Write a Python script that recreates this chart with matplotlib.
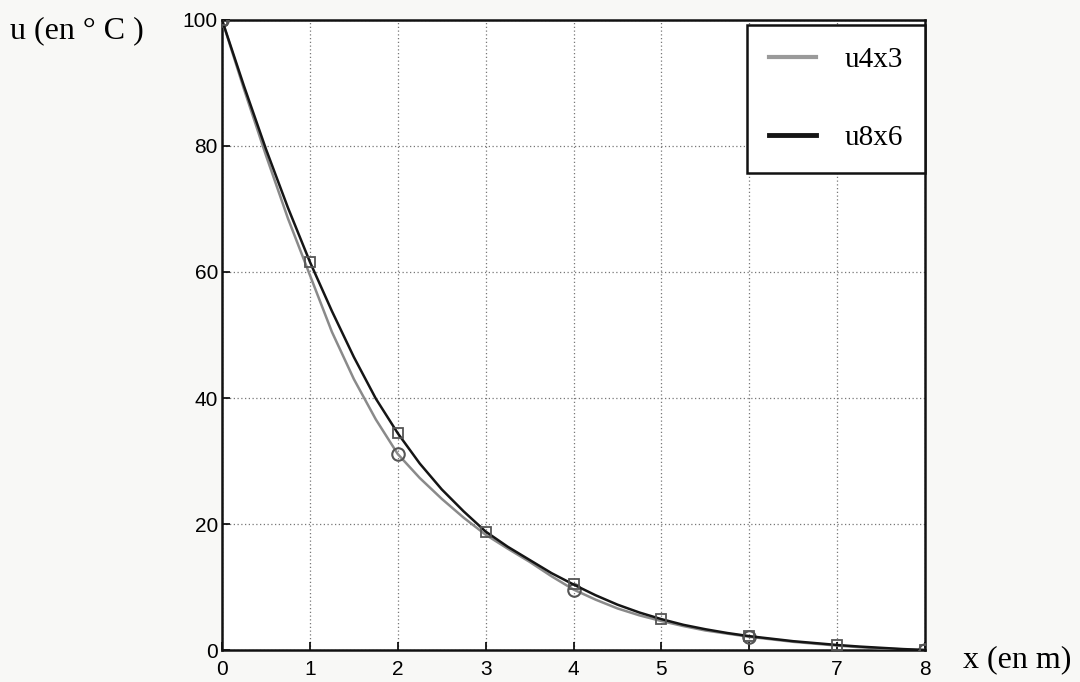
import matplotlib.pyplot as plt

# values, every 0.25 m
x_pos = [0, 0.25, 0.5, 0.75, 1, 1.25, 1.5, 1.75, 2, 2.25, 2.5, 2.75, 3, 3.25, 3.5, 3.75,
         4, 4.25, 4.5, 4.75, 5, 5.25, 5.5, 5.75, 6, 6.25, 6.5, 6.75, 7, 7.25, 7.5, 7.75, 8]
u4x3 = [100, 89, 78.5, 68.5, 59.5, 50.5, 43, 36.6, 31.1, 27.3, 24, 21, 18.3, 16.1, 14.0, 11.7,
        9.6, 8.0, 6.6, 5.5, 4.6, 3.8, 3.1, 2.6, 2.1, 1.7, 1.3, 1.0, 0.7, 0.45, 0.25, 0.1, 0]
u8x6 = [100, 89.5, 79.5, 70.2, 61.6, 53.8, 46.5, 39.9, 34.4, 29.6, 25.5, 22, 18.8, 16.4, 14.3, 12.2,
        10.4, 8.7, 7.2, 5.95, 4.9, 4.0, 3.3, 2.7, 2.2, 1.8, 1.4, 1.1, 0.8, 0.55, 0.35, 0.15, 0]

x_ticks = [0, 1, 2, 3, 4, 5, 6, 7, 8]
y_ticks = [0, 20, 40, 60, 80, 100]

serif = "Liberation Serif"
sans = "Liberation Sans"

fig = plt.figure(figsize=(10.8, 6.82), dpi=100)
fig.patch.set_facecolor("#f8f8f6")
ax = fig.add_axes([0.2056, 0.0469, 0.6509, 0.9238])
ax.set_facecolor("white")

# grey curve: markers every 2 m, black curve: every 1 m
ax.plot(x_pos, u4x3, color="#8a8a8a", lw=1.8, marker="o", markersize=9,
        markerfacecolor="none", markeredgecolor="#555555", markeredgewidth=1.5,
        markevery=8, label="u4x3", zorder=3)
ax.plot(x_pos, u8x6, color="#151515", lw=1.8, marker="s", markersize=7,
        markerfacecolor="none", markeredgecolor="#555555", markeredgewidth=1.3,
        markevery=4, label="u8x6", zorder=4)

ax.set_xlim(0, 8)
ax.set_ylim(0, 100)
ax.set_xticks(x_ticks)
ax.set_yticks(y_ticks)
ax.grid(True, color="#777777", linestyle=(0, (1, 2)), linewidth=0.9)
ax.tick_params(direction="in", length=6, width=1.2, labelsize=15)
ax.tick_params(axis="x", pad=7)
ax.tick_params(axis="y", pad=3)
for lbl in ax.get_xticklabels() + ax.get_yticklabels():
    lbl.set_fontfamily(sans)
for sp in ax.spines.values():
    sp.set_linewidth(1.8)
    sp.set_color("#111111")

leg = ax.legend(loc="upper right", bbox_to_anchor=(1.0, 0.992), borderaxespad=0.0,
                fancybox=False, edgecolor="#111111", framealpha=1,
                prop={"family": serif, "size": 21}, labelspacing=1.75,
                handlelength=1.6, handletextpad=1.0, borderpad=0.75)
leg.get_frame().set_linewidth(1.8)
leg.legend_handles[0].set_color("#9a9a9a")
leg.legend_handles[0].set_linewidth(3)
leg.legend_handles[1].set_linewidth(3.5)
for h in leg.legend_handles:
    h.set_marker("")

fig.text(0.009, 0.955, "u (en ° C )", family=serif, fontsize=23, ha="left", va="center")
fig.text(0.892, 0.032, "x (en m)", family=serif, fontsize=23, ha="left", va="center")

fig.savefig("out.png", dpi=100, facecolor=fig.get_facecolor())
